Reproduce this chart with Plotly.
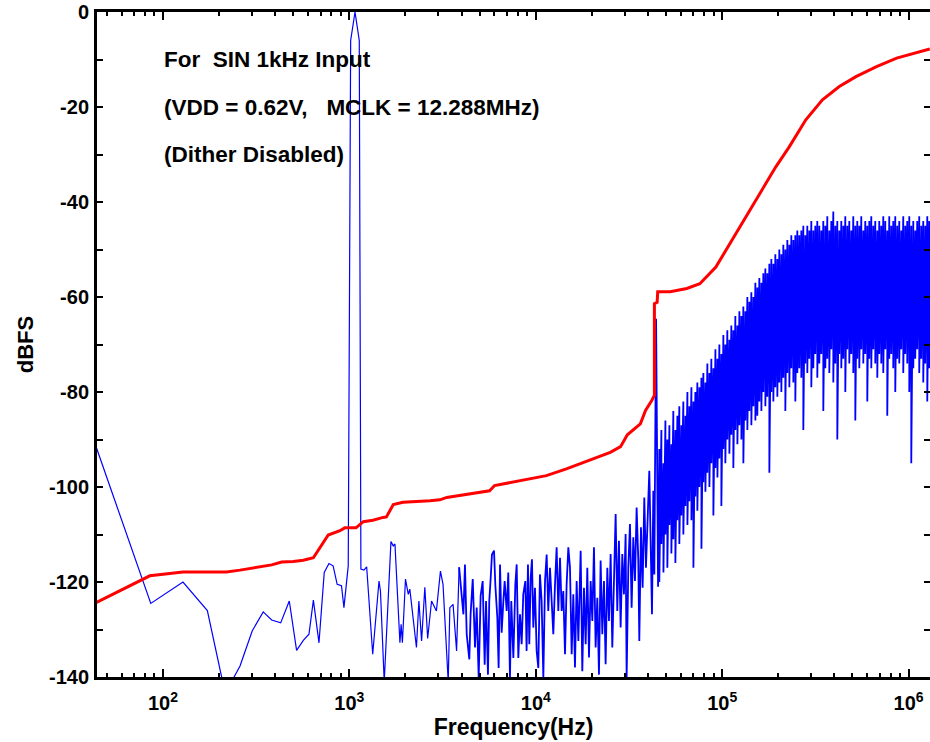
import plotly.graph_objs as go

# red trace (upper curve)
red_freq = [44, 85, 128, 219, 259, 305, 383, 433, 500, 566,
            641, 770, 890, 945, 1085, 1188, 1337, 1517, 1580, 1720,
            1940, 2710, 3060, 3330, 5650, 6010, 8250, 11400, 14600, 20300,
            25100, 28500, 31000, 36400, 38800, 41900, 43300, 43300, 44800, 45100,
            52600, 64600, 75900, 92500, 113000, 134000, 158000, 194000, 229000, 281000,
            345000, 425000, 522000, 673000, 863000, 1104000, 1300000]
red_db = [-124.3, -118.7, -117.9, -117.9, -117.5, -117.0, -116.4, -115.8, -115.7, -115.4,
          -114.9, -110.1, -109.2, -108.6, -108.6, -107.3, -107.0, -106.4, -106.3, -103.7,
          -103.2, -102.9, -102.7, -102.2, -100.8, -99.7, -98.7, -97.6, -96.2, -94.1,
          -92.7, -91.5, -89.0, -86.7, -83.9, -81.8, -80.7, -61.4, -61.1, -58.9,
          -58.9, -58.2, -57.2, -53.7, -48.0, -43.1, -38.2, -32.6, -28.4, -22.7,
          -18.5, -15.7, -13.6, -11.5, -9.7, -8.5, -7.8]

# blue spectrum, sparse low-frequency bins (Hz)
low_freq = [44, 86, 128, 173, 209, 233, 259, 301, 345, 383,
            428, 476, 521, 566, 607, 641, 687, 733, 777, 818,
            860, 907, 935, 986, 1016, 1072, 1130, 1153, 1197, 1238,
            1334, 1442, 1468, 1538, 1671, 1720, 1756, 1867, 1895, 1925,
            2000, 2070, 2110, 2290, 2360, 2440, 2540, 2630, 2760, 2930,
            3080, 3180, 3390, 3460, 3600, 3760, 3880]
low_db = [-91.8, -124.5, -120.0, -126.0, -141.0, -141.0, -137.7, -130.3, -126.3, -128.0,
          -128.6, -124.0, -134.4, -132.3, -131.0, -123.8, -132.8, -118.0, -116.1, -116.6,
          -120.5, -120.8, -125.4, -116.6, -6.0, 0.0, -6.0, -117.3, -117.5, -116.8,
          -135.2, -119.8, -121.9, -141.0, -111.5, -112.4, -112.0, -132.8, -128.9, -132.8,
          -119.4, -122.6, -121.5, -133.8, -124.0, -132.4, -121.1, -131.9, -124.0, -126.1,
          -117.7, -120.5, -141.0, -125.4, -124.7, -134.5, -116.9]

# blue spectrum, 4 kHz .. 45 kHz (Hz)
mid_freq = [4090, 4170, 4260, 4400, 4470, 4590, 4720, 4820, 4940, 5060,
            5190, 5320, 5410, 5540, 5630, 5730, 5820, 5970, 6070, 6220,
            6320, 6430, 6560, 6700, 6810, 6980, 7120, 7270, 7390, 7580,
            7770, 7900, 8060, 8230, 8400, 8570, 8790, 8930, 9080, 9230,
            9390, 9540, 9700, 9900, 10110, 10320, 10530, 10750, 10980, 11210,
            11440, 11670, 11920, 12170, 12420, 12680, 12940, 13210, 13490, 13770,
            14050, 14350, 14640, 14950,
            15260, 15580, 15900, 16230, 16570, 16920, 17410, 17770, 18140, 18520,
            18900, 19300, 19700, 20110, 20520, 20950, 21390, 21830, 22280, 22750,
            23220, 23700, 24200, 24700, 25210, 25740, 26270, 26820, 27370, 27940,
            28530, 29120, 29720, 30340, 30720, 31360, 32010, 32680, 33360, 34050,
            34760, 35480, 35930, 36670, 37440, 38210, 39010, 39820, 40650, 41320,
            42020, 42720, 43250, 44200, 45300]
mid_db = [-126.8, -116.3, -131.0, -136.3, -126.8, -119.4, -133.8, -125.4, -140.2, -122.9,
          -119.8, -137.4, -124.0, -139.5, -124.0, -119.1, -114.2, -113.4, -120.8, -127.5,
          -138.1, -116.3, -130.7, -124.0, -119.8, -126.1, -118.0, -140.2, -124.0, -136.0,
          -120.5, -116.3, -136.0, -126.8, -133.1, -122.6, -119.8, -134.5, -116.3, -133.1,
          -119.1, -115.2, -129.6, -121.2, -134.5, -138.1, -118.4, -124.0, -140.2, -119.8,
          -114.2, -126.1, -117.0, -124.0, -131.0, -120.5, -112.7, -126.1, -114.9, -126.1,
          -121.9, -135.2, -120.5, -112.7,
          -117.0, -135.2, -122.6, -138.0, -119.8, -132.4, -113.4, -138.8, -121.2, -133.1,
          -117.0, -135.9, -119.8, -128.2, -112.7, -133.8, -123.3, -139.5, -115.5, -131.0,
          -119.8, -137.3, -117.0, -128.2, -114.1, -133.8, -117.0, -105.7, -126.1, -111.3,
          -129.6, -114.1, -122.6, -109.9, -140.2, -117.0, -107.8, -125.4, -110.6, -119.8,
          -104.3, -115.5, -132.4, -108.5, -121.2, -102.2, -117.0, -107.1, -96.6, -111.3,
          -126.8, -100.8, -118.4, -64.6, -121.0]

# blue spectrum above 45 kHz: dense noise, top / bottom of each swing (kHz)
high_khz = [46, 47.2, 48.4, 49.6, 50.8, 52.1, 53.4, 54.7, 56.1, 57.5,
            58.9, 60.4, 61.9, 63.5, 65.1, 66.7, 68.4, 70.1, 71.8, 73.6,
            75.5, 77.4, 79.3, 81.3, 83.3, 85.4, 87.5, 89.7, 92, 94.3,
            96.6, 99, 101.5, 104, 106.6, 109.3, 112, 114.8, 117.7, 120.7,
            123.7, 126.8, 129.9, 133.2, 136.5, 139.9, 143.4, 147, 150.7, 154.4,
            158.3, 162.3, 166.3, 170.5, 174.7, 179.1, 183.6, 188.2, 192.9, 197.7,
            202.6, 207.7, 212.9, 218.2, 223.7, 229.3, 235, 240.9, 246.9, 253.1,
            259.4, 265.9, 272.5, 279.3, 286.3, 293.5, 300.8, 308.3, 316, 323.9,
            332, 340.3, 348.8, 357.6, 366.5, 375.7, 385.1, 394.7, 404.5, 414.7,
            425, 435.7, 446.6, 457.7, 469.2, 480.9, 492.9, 505.2, 517.9, 530.8,
            544.1, 557.7, 571.6, 585.9, 600.5, 615.6, 631, 646.7, 662.9, 679.5,
            696.4, 713.8, 731.7, 750, 768.7, 787.9, 807.6, 827.8, 848.5, 869.7,
            891.5, 913.8, 936.6, 960, 984, 1009, 1034, 1060, 1086, 1113,
            1141, 1170, 1199, 1229, 1260, 1290]
high_top = [-92, -88, -95, -86, -90, -87, -91, -84, -88, -85,
            -83, -87, -82, -85, -80, -83, -79, -82, -80, -78,
            -79, -77, -76, -78, -74, -76, -73, -75, -71, -73,
            -70, -72, -68, -70, -67, -69, -66, -67, -64, -66,
            -63, -64, -62, -63, -60, -61, -59, -60, -57, -58,
            -56, -57, -55, -54, -55, -53, -52, -53, -51, -52,
            -50, -51, -49, -50, -48, -49, -47, -48, -47, -46,
            -47, -46, -45, -47, -45, -46, -44, -46, -45, -44,
            -45, -46, -44, -45, -43, -46, -44, -42, -45, -44,
            -46, -44, -45, -43, -45, -44, -46, -43, -45, -44,
            -45, -43, -46, -44, -45, -44, -43, -45, -44, -46,
            -44, -45, -43, -44, -46, -43, -45, -44, -43, -45,
            -44, -46, -43, -45, -44, -43, -45, -44, -46, -44,
            -43, -45, -44, -45, -43, -44]
high_bottom = [-120, -112, -118, -110, -117, -108, -114, -111, -116, -107,
               -112, -106, -110, -104, -108, -103, -107, -117, -102, -105,
               -100, -113, -99, -101, -97, -100, -95, -106, -96, -98,
               -94, -104, -92, -95, -90, -93, -89, -96, -88, -91,
               -87, -90, -95, -86, -88, -84, -87, -83, -86, -85,
               -82, -84, -80, -83, -81, -97, -80, -82, -79, -81,
               -78, -80, -77, -84, -76, -79, -75, -78, -82, -76,
               -75, -77, -88, -74, -76, -73, -79, -75, -72, -77,
               -74, -72, -84, -75, -73, -76, -71, -78, -74, -90,
               -72, -75, -73, -80, -71, -74, -72, -76, -86, -73,
               -75, -71, -74, -72, -82, -73, -75, -71, -74, -77,
               -72, -74, -76, -71, -85, -73, -72, -75, -80, -73,
               -74, -71, -76, -72, -74, -80, -95, -75, -73, -71,
               -76, -73, -78, -74, -82, -75]

y_ticks = [0, -20, -40, -60, -80, -100, -120, -140]
y_ticktext = ['0', '-20', '-40', '-60', '-80', '-100', '-120', '-140']
x_ticks = [1e2, 1e3, 1e4, 1e5, 1e6]
x_ticktext = ['10<sup>2</sup>', '10<sup>3</sup>', '10<sup>4</sup>', '10<sup>5</sup>', '10<sup>6</sup>']

notes = ['For\u00a0 SIN 1kHz Input',
         '(VDD = 0.62V,\u00a0\u00a0 MCLK = 12.288MHz)',
         '(Dither Disabled)']


def dense_series():
    # start from the last sparse bin so the two pieces join up
    x = [low_freq[-1]] + list(mid_freq)
    y = [low_db[-1]] + list(mid_db)
    for f, top, bot in zip(high_khz, high_top, high_bottom):
        x += [f * 1000, f * 1000]
        y += [top, bot]
    return x, y


def main():
    bold = dict(family='Liberation Sans, Arial, sans-serif', size=20, color='black', weight='bold')

    dx, dy = dense_series()
    data = [
        go.Scatter(x=low_freq, y=low_db, mode='lines', line=dict(color='#0000ff', width=1.2)),
        go.Scatter(x=dx, y=dy, mode='lines', line=dict(color='#0000ff', width=1.8)),
        go.Scatter(x=red_freq, y=red_db, mode='lines', line=dict(color='#ff0000', width=3)),
    ]

    minor_x = [m * 10 ** e for e in range(1, 7) for m in range(2, 10)]

    layout = go.Layout(
        width=930,
        height=742,
        margin=dict(l=97, r=0, t=12, b=65),
        showlegend=False,
        hovermode=False,
        plot_bgcolor='white',
        paper_bgcolor='white',
        font=bold,
        xaxis=dict(
            type='log',
            range=[1.646, 6.115],
            automargin=False,
            showline=True, linewidth=3, linecolor='black', mirror='ticks',
            ticks='inside', ticklen=8, tickwidth=2, tickcolor='black',
            tickmode='array', tickvals=x_ticks, ticktext=x_ticktext,
            tickfont=bold, ticklabelstandoff=6, ticklabeloverflow='allow',
            minor=dict(ticks='inside', ticklen=4, tickwidth=2, tickcolor='black',
                       tickmode='array', tickvals=minor_x, showgrid=False),
            showgrid=False, zeroline=False,
            title=dict(text='Frequency(Hz)', font=dict(bold, size=23), standoff=5),
        ),
        yaxis=dict(
            range=[-140, 0],
            automargin=False,
            showline=True, linewidth=3, linecolor='black', mirror='ticks',
            ticks='inside', ticklen=6, tickwidth=2, tickcolor='black',
            tickmode='array', tickvals=y_ticks, ticktext=y_ticktext,
            tickfont=bold, ticklabelstandoff=1, ticklabeloverflow='allow',
            minor=dict(ticks='inside', ticklen=6, tickwidth=2, tickcolor='black',
                       dtick=10, tick0=0, showgrid=False),
            showgrid=False, zeroline=False,
            title=dict(text='dBFS', font=dict(bold, size=22), standoff=10),
        ),
    )

    fig = go.Figure(data=data, layout=layout)
    for i, txt in enumerate(notes):
        fig.add_annotation(x=2, y=-10 - 10 * i, xref='x', yref='y', text=txt,
                           showarrow=False, xanchor='left', yanchor='middle',
                           xshift=-1, font=dict(bold, size=22.5))
    # drop the default 8px body margin so the figure fills the window exactly
    fig.write_html('out.html', config={'displayModeBar': False},
                   post_script="document.body.style.margin='0';")


if __name__ == '__main__':
    main()
